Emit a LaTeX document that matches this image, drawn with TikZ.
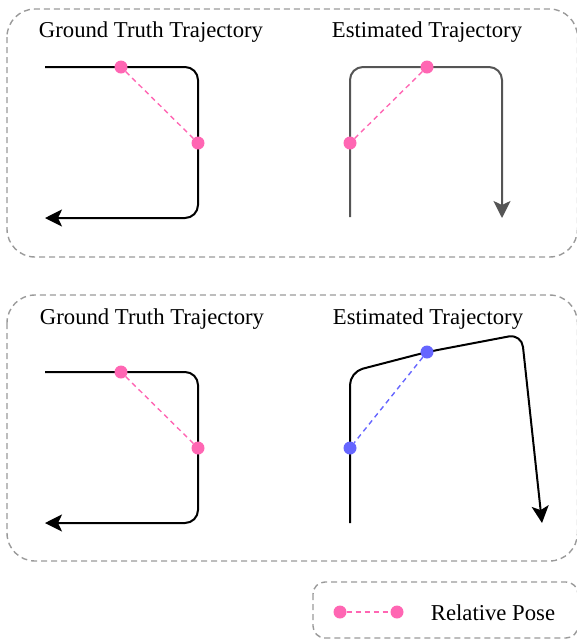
\documentclass[tikz,border=0pt]{standalone}
\usepackage{fontspec}
\setmainfont{Liberation Serif}
\usetikzlibrary{arrows.meta}
\definecolor{pk}{HTML}{FF66B3}
\definecolor{bl}{HTML}{6666FF}
\definecolor{bx}{HTML}{9A9A9A}
\definecolor{gr}{HTML}{555555}
\begin{document}
\begin{tikzpicture}[x=1pt,y=-1pt,
  panel/.style={draw=bx, line width=1.4pt, dash pattern=on 6pt off 4pt},
  traj/.style={line width=2pt, rounded corners=13pt, -{Stealth[length=17pt,width=17pt,inset=4pt]}},
  posedot/.style={circle, fill=#1, inner sep=0pt, minimum size=13pt},
  poseline/.style={draw=#1, line width=1.4pt, dash pattern=on 5pt off 4pt},
  title/.style={font=\fontsize{22.7}{27}\selectfont, inner sep=0pt, anchor=base}
]
\useasboundingbox (0,0) rectangle (577,641);
% panels
\draw[panel, rounded corners=28pt] (7,9) rectangle (577.5,257);
\draw[panel, rounded corners=28pt] (7,295) rectangle (577.5,561);
\draw[panel, rounded corners=12pt] (313,582) rectangle (578,638);
% titles
\node[title] (t1) at (151,37.5) {Ground Truth Trajectory};
\node[title] (t2) at (427,37.5) {Estimated Trajectory};
\node[title] (t3) at (152,324.5) {Ground Truth Trajectory};
\node[title] (t4) at (428,324.5) {Estimated Trajectory};
% trajectory coordinates
\coordinate (a0) at (45,67); \coordinate (a1) at (198,67); \coordinate (a2) at (198,218); \coordinate (a3) at (45,218);
\coordinate (b0) at (350,217); \coordinate (b1) at (350,67); \coordinate (b2) at (502,67); \coordinate (b3) at (502,218);
\coordinate (c0) at (45,372); \coordinate (c1) at (198,372); \coordinate (c2) at (198,523); \coordinate (c3) at (45,523);
\coordinate (d0) at (350,523); \coordinate (d1) at (350,372); \coordinate (d2) at (427,352); \coordinate (d3) at (521.6,334); \coordinate (d4) at (542,523);
\draw[traj] (a0) -- (a1) -- (a2) -- (a3);
\draw[traj, draw=gr, color=gr] (b0) -- (b1) -- (b2) -- (b3);
\draw[traj] (c0) -- (c1) -- (c2) -- (c3);
\draw[traj] (d0) -- (d1) -- (d2) -- (d3) -- (d4);
% pose dots
\node[posedot=pk] (p1) at (121,67) {};
\node[posedot=pk] (p2) at (198,143) {};
\node[posedot=pk] (p3) at (427,67) {};
\node[posedot=pk] (p4) at (350,143) {};
\node[posedot=pk] (p5) at (121,372) {};
\node[posedot=pk] (p6) at (198,448) {};
\node[posedot=bl] (p7) at (427,352) {};
\node[posedot=bl] (p8) at (350,448) {};
\node[posedot=pk] (l1) at (340,612) {};
\node[posedot=pk] (l2) at (397,612) {};
\draw[poseline=pk] (p1) -- (p2);
\draw[poseline=pk] (p3) -- (p4);
\draw[poseline=pk] (p5) -- (p6);
\draw[poseline=bl] (p7) -- (p8);
\draw[poseline=pk] (l1) -- (l2);
\node[title] (lt) at (493,620) {Relative Pose};
\end{tikzpicture}
\end{document}
